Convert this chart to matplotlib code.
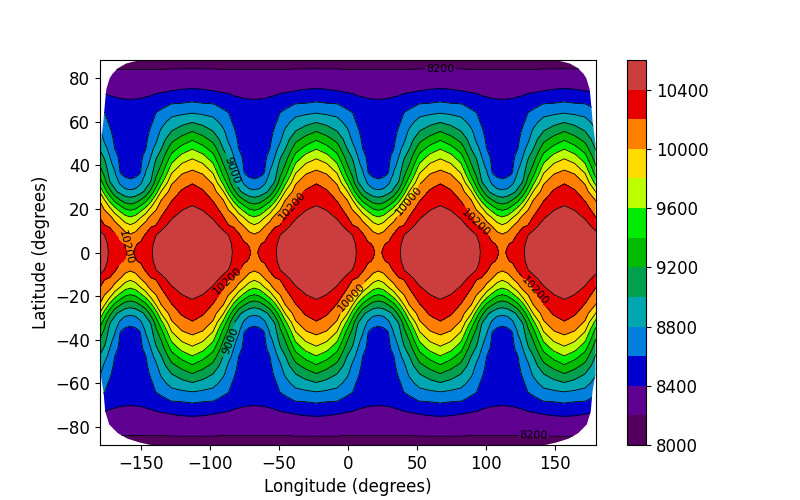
import numpy as np
import matplotlib
matplotlib.use("Agg")
import matplotlib.pyplot as plt
from matplotlib.patches import Polygon

# Latitude rows (north half, mirrored for the south)
lat_north = [0, 4, 8, 12, 16, 20, 24, 28, 32, 36, 40, 44, 48, 52, 56, 60, 64, 68, 72, 76, 80, 84, 88.4]

# Angular distance from a ridge centre for each column below
dist = [0, 7.5, 15, 22.5, 26.25, 30, 33.75, 37.5, 41.25, 45]

# Field values
z_d00 = [10560,10555,10540,10510,10470,10425,10360,10277,10190,10066,9924,9760,9575,9376,9180,8986,8800,8640,8501,8376,8291,8207,8130]
z_d07 = [10550,10545,10525,10490,10450,10390,10302,10224,10118,10000,9840,9667,9461,9271,9098,8932,8773,8619,8485,8371,8289,8206,8130]
z_d15 = [10520,10510,10490,10450,10390,10290,10190,10089,9980,9816,9643,9467,9298,9140,8991,8870,8743,8610,8460,8355,8280,8206,8130]
z_d22 = [10480,10465,10440,10365,10215,10107,10000,9810,9553,9352,9214,9096,8986,8905,8824,8736,8645,8543,8429,8345,8273,8200,8130]
z_d26 = [10445,10430,10400,10220,10096,9987,9813,9510,9300,9162,9072,8975,8850,8768,8713,8659,8605,8514,8419,8343,8271,8200,8130]
z_d30 = [10385,10378,10325,10185,10060,9857,9548,9274,9018,8938,8871,8803,8745,8687,8629,8571,8514,8457,8400,8333,8267,8200,8130]
z_d34 = [10320,10295,10225,10090,9926,9661,9350,9043,8922,8830,8744,8662,8592,8560,8527,8495,8462,8430,8395,8330,8265,8200,8130]
z_d37 = [10265,10225,10120,10000,9800,9520,9215,8936,8774,8608,8580,8561,8537,8514,8490,8467,8443,8420,8390,8327,8264,8200,8130]
z_d41 = [10225,10185,10060,9900,9675,9400,9111,8872,8650,8572,8560,8547,8526,8504,8483,8461,8439,8418,8389,8326,8263,8200,8130]
z_d45 = [10150,10100,10020,9842,9622,9359,9079,8847,8625,8570,8560,8545,8523,8502,8481,8460,8438,8417,8388,8325,8263,8200,8130]

ridges = [-203, -113, -23, 67, 157, 247]

levels = [8000, 8200, 8400, 8600, 8800, 9000, 9200, 9400, 9600, 9800, 10000, 10200, 10400, 10600]
plain_levels = [8400, 8600, 8800, 9200, 9400, 9600, 9800, 10400]
colors = ["#53005f", "#600090", "#0000cf", "#0080dd", "#00a6b0", "#00a04f", "#00bb00",
          "#00ec00", "#bbff00", "#ffdb00", "#ff8000", "#e60000", "#cc3d3d"]
cbar_ticks = [8000, 8400, 8800, 9200, 9600, 10000, 10400]
x_ticks = [-150, -100, -50, 0, 50, 100, 150]
y_ticks = [-80, -60, -40, -20, 0, 20, 40, 60, 80]

# Data outline: the field stops short of the plot corners
edge_north_lat = [88.4, 87.6, 86.8, 84.6, 82, 80, 75, 70, 60, 50, 0]
edge_north_lon = [150, 156, 161, 167, 171, 173, 175.4, 176.2, 177.6, 179.6, 180]
edge_south_lat = [0, -56, -63.7, -73, -79, -83, -85.5, -87.3, -88.4]
edge_south_lon = [180, 179.6, 177.5, 176.2, 173.3, 167, 160, 151, 143]

# Contour label anchors per level
labels_8200 = [(67, 84.7), (135, -83)]
labels_9000 = [(-84, 38), (-87, -40)]
labels_10000 = [(0, -19), (49, 21)]
labels_10200 = [(-40, 21), (-88, -12.5), (93, 14), (141, -14), (-162, 2)]

# Assemble the grid from the table
cols = np.array([z_d00, z_d07, z_d15, z_d22, z_d26, z_d30, z_d34, z_d37, z_d41, z_d45])
half = cols.T
lat = np.concatenate([-np.array(lat_north)[:0:-1], lat_north])
rows = np.vstack([half[:0:-1], half])
n = len(dist)
lon, idx = [], []
for r in ridges[:-1]:
    for i in range(n):
        lon.append(r + dist[i]); idx.append(i)
    for i in range(n - 2, 0, -1):
        lon.append(r + 90 - dist[i]); idx.append(i)
lon.append(ridges[-1]); idx.append(0)
lon = np.array(lon, dtype=float)
Z = rows[:, idx]

fig, ax = plt.subplots(figsize=(8, 5), dpi=100)
cf = ax.contourf(lon, lat, Z, levels=levels, colors=colors)
cl = ax.contour(lon, lat, Z, levels=plain_levels, colors="k", linewidths=0.6)
ax.set_xlim(-180, 180)
ax.set_ylim(-88.4, 88.4)

verts = (list(zip(edge_north_lon, edge_north_lat)) + list(zip(edge_south_lon, edge_south_lat))
         + [(-a, b) for a, b in zip(edge_south_lon[::-1], edge_south_lat[::-1])]
         + [(-a, b) for a, b in zip(edge_north_lon[::-1], edge_north_lat[::-1])])
clip = Polygon(verts, closed=True, transform=ax.transData, fc="none", ec="none")
ax.add_patch(clip)
cf.set_clip_path(clip)
cl.set_clip_path(clip)

for lev, pos in [(8200, labels_8200), (9000, labels_9000), (10000, labels_10000), (10200, labels_10200)]:
    c = ax.contour(lon, lat, Z, levels=[lev], colors="k", linewidths=0.6)
    c.set_clip_path(clip)
    ax.clabel(c, manual=pos, fmt="%d", fontsize=8, inline=True)

ax.set_xticks(x_ticks)
ax.set_yticks(y_ticks)
ax.tick_params(labelsize=12)
ax.set_xlabel("Longitude (degrees)", fontsize=12)
ax.set_ylabel("Latitude (degrees)", fontsize=12)

cb = fig.colorbar(cf, ax=ax, ticks=cbar_ticks)
cb.ax.tick_params(labelsize=12)
fig.savefig("out.png", dpi=100)
